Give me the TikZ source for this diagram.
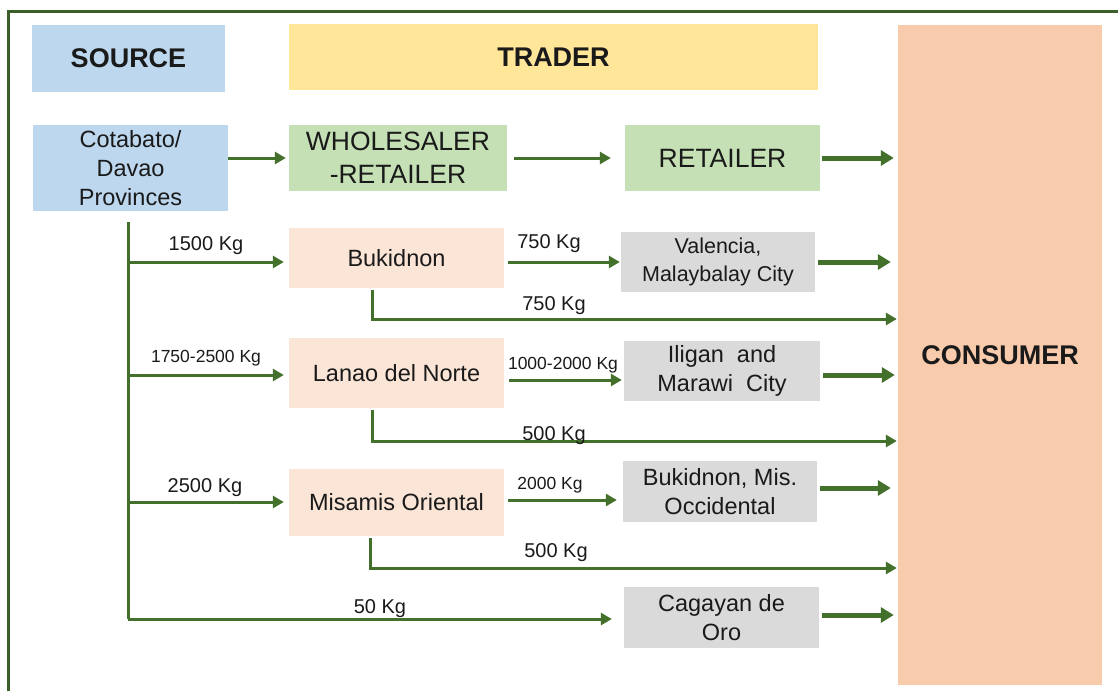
\documentclass[tikz,border=0pt]{standalone}
\usepackage{fontspec}
\setmainfont{Liberation Sans}
\usetikzlibrary{arrows.meta}
\definecolor{agreen}{HTML}{43712B}
\definecolor{fgreen}{HTML}{3B5E2A}
\definecolor{cblue}{HTML}{BDD7EE}
\definecolor{cyellow}{HTML}{FFE699}
\definecolor{cpeach}{HTML}{F8CBAD}
\definecolor{clpeach}{HTML}{FBE5D6}
\definecolor{cgreen}{HTML}{C5E0B4}
\definecolor{cgrey}{HTML}{DADADA}
\definecolor{ctext}{HTML}{1A1A1A}
\tikzset{
  box/.style={inner sep=0pt, align=center, text=ctext},
  headtxt/.style={font=\fontsize{27}{32}\selectfont\bfseries},
  bigtxt/.style={font=\fontsize{26.5}{33}\selectfont},
  midtxt/.style={font=\fontsize{23.5}{29}\selectfont},
  smalltxt/.style={font=\fontsize{21.5}{28}\selectfont},
  lbl/.style={inner sep=0pt, anchor=base, text=ctext, font=\fontsize{20}{24}\selectfont},
  lbls/.style={inner sep=0pt, anchor=base, text=ctext, font=\fontsize{17.5}{22}\selectfont},
  arr/.style={draw=agreen, line width=3pt, -{Triangle[length=11pt,width=12pt]}},
  arrthick/.style={draw=agreen, line width=5pt, -{Triangle[length=13pt,width=15pt]}},
  ln/.style={draw=agreen, line width=3pt},
}
\begin{document}
\begin{tikzpicture}[x=1pt,y=-1pt]
\useasboundingbox (0,0) rectangle (1118,691);
\fill[white] (0,0) rectangle (1118,691);
% frame
\draw[fgreen, line width=3pt] (8,691) -- (8,11) -- (1118,11);

% header boxes
\node[box, headtxt, fill=cblue, minimum width=193pt, minimum height=67pt] (src) at (128.5,58.5) {SOURCE};
\node[box, headtxt, fill=cyellow, minimum width=529pt, minimum height=66pt] (trader) at (553.5,57) {TRADER};
\node[box, headtxt, fill=cpeach, minimum width=204pt, minimum height=660pt] (cons) at (1000,355) {CONSUMER};

% first row
\node[box, midtxt, fill=cblue, minimum width=195pt, minimum height=86pt] (cot) at (130.5,168) {Cotabato/\\Davao\\Provinces};
\node[box, bigtxt, fill=cgreen, minimum width=218pt, minimum height=66pt] (whole) at (398,158) {WHOLESALER\\-RETAILER};
\node[box, bigtxt, fill=cgreen, minimum width=195pt, minimum height=66pt] (ret) at (722.5,158) {RETAILER};

% province boxes
\node[box, midtxt, fill=clpeach, minimum width=215pt, minimum height=60pt] (buk) at (396.5,258) {Bukidnon};
\node[box, midtxt, fill=clpeach, minimum width=215pt, minimum height=70pt] (lan) at (396.5,373) {Lanao\ del Norte};
\node[box, midtxt, fill=clpeach, minimum width=215pt, minimum height=67pt] (mis) at (396.5,502.5) {Misamis\ Oriental};

% destination boxes
\node[box, smalltxt, fill=cgrey, minimum width=194pt, minimum height=60pt] (val) at (718,262) {Valencia,\\Malaybalay\ City};
\node[box, midtxt, fill=cgrey, minimum width=196pt, minimum height=60pt] (ili) at (722,371) {Iligan\ \ and\\Marawi\ \ City};
\node[box, midtxt, fill=cgrey, minimum width=194pt, minimum height=61pt] (bmis) at (720,491.5) {Bukidnon,\ Mis.\\Occidental};
\node[box, midtxt, fill=cgrey, minimum width=195pt, minimum height=61pt] (cag) at (721.5,617.5) {Cagayan\ de\\Oro};

% trunk
\coordinate (trTop) at (128,222);
\coordinate (trBot) at (128,619);
\draw[ln] (trTop) -- (trBot);

% first row arrows
\draw[arr, shorten >=3pt] (cot.east |- whole.west) -- (whole.west);
\draw[arr, shorten <=7pt, shorten >=14pt] (whole.east) -- (ret.west);
\draw[arrthick, shorten <=2pt, shorten >=4pt] (ret.east) -- (cons.west |- ret.east);

% Bukidnon
\draw[arr, shorten >=5pt] (trTop |- val.west) -- (buk.west |- val.west);
\draw[arr, shorten <=4pt, shorten >=1pt] (buk.east |- val.west) -- (val.west);
\draw[arrthick, shorten <=3pt, shorten >=7pt] (val.east) -- (cons.west |- val.east);
\coordinate (bukDrop) at (372,319);
\draw[arr, shorten >=1pt] ([yshift=-2pt]buk.south -| bukDrop) -- (bukDrop) -- (cons.west |- bukDrop);
\node[lbl] (l1500) at (206,250) {1500 Kg};
\node[lbl] (l750a) at (549,248) {750 Kg};
\node[lbl] (l750b) at (554,310) {750 Kg};

% Lanao
\draw[arr, shorten >=5pt] (trTop |- 0,375) -- (lan.west |- 0,375);
\draw[arr, shorten <=5pt, shorten >=2pt] (lan.east |- 0,380) -- (ili.west |- 0,380);
\draw[arrthick, shorten <=3pt, shorten >=3pt] (ili.east |- 0,375) -- (cons.west |- 0,375);
\coordinate (lanDrop) at (372,441);
\draw[arr, shorten >=1pt] ([yshift=-2pt]lan.south -| lanDrop) -- (lanDrop) -- (cons.west |- lanDrop);
\node[lbls] (l1750) at (206,362) {1750-2500 Kg};
\node[lbls] (l1000) at (563,369) {1000-2000 Kg};
\node[lbl] (l500a) at (554,440) {500 Kg};

% Misamis
\draw[arr, shorten >=5pt] (trTop |- 0,502) -- (mis.west |- 0,502);
\draw[arr, shorten <=4pt, shorten >=6pt] (mis.east |- 0,500) -- (bmis.west |- 0,500);
\draw[arrthick, shorten <=3pt, shorten >=7pt] (bmis.east |- 0,488) -- (cons.west |- 0,488);
\coordinate (misDrop) at (370,568);
\draw[arr, shorten >=1pt] ([yshift=-2pt]mis.south -| misDrop) -- (misDrop) -- (cons.west |- misDrop);
\node[lbl] (l2500) at (205,492) {2500 Kg};
\node[lbls] (l2000) at (550,489) {2000 Kg};
\node[lbl] (l500b) at (556,557) {500 Kg};

% Cagayan
\draw[arr, shorten >=12pt] (trBot) -- (cag.west |- trBot);
\draw[arrthick, shorten <=3pt, shorten >=4pt] (cag.east |- 0,615) -- (cons.west |- 0,615);
\node[lbl] (l50) at (380,613) {50 Kg};
\end{tikzpicture}
\end{document}
